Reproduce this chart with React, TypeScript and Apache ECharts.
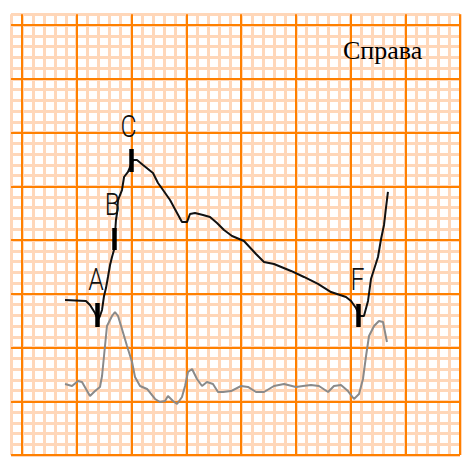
import React, { useEffect, useRef } from "react";
import * as echarts from "echarts";

// Paper units: 1 = one small square, 5 = one large square.
const paperXMin = -1;
const paperXMax = 40;
const paperYMin = 0;
const paperYMax = 41;

// Upper (black) tracing: [x, y] in small squares
const upperTrace: number[][] = [
  [3.93, 14.42], [5.84, 14.33], [6.21, 13.95], [6.67, 13.21], [6.94, 12.56],
  [7.12, 12.93], [7.31, 13.49], [7.49, 14.79], [7.67, 15.53], [7.85, 16.56],
  [8.04, 17.67], [8.22, 18.42], [8.4, 19.07], [8.49, 20.47], [8.58, 21.86],
  [8.68, 22.51], [8.77, 23.72], [9.13, 24.65], [9.32, 25.86], [9.68, 26.33],
  [9.95, 26.98], [10.14, 27.44], [10.5, 27.44], [11.05, 26.98], [11.96, 26.23],
  [12.42, 25.3], [12.88, 24.65], [13.52, 23.72], [14.16, 22.51], [14.61, 21.67],
  [15.07, 21.67], [15.34, 22.42], [15.8, 22.51], [16.53, 22.33], [17.17, 22.14],
  [17.81, 21.58], [18.45, 20.93], [19.18, 20.37], [20.27, 19.91], [21.37, 18.7],
  [22.1, 17.95], [23.01, 17.77], [24.57, 17.12], [25.75, 16.56], [27.03, 15.91],
  [28.22, 15.16], [29.59, 14.7], [30.05, 14.33], [30.5, 13.67], [30.87, 12.93],
  [31.23, 12.93], [31.6, 14.33], [31.87, 16.37], [32.51, 18.42], [32.79, 20.09],
  [33.06, 21.4], [33.24, 22.98], [33.42, 24.47],
];

// Heavy strokes on the upper tracing (notch A, upstroke B, peak C, notch F)
const heavyStrokes: number[][][] = [
  [[6.89, 14.14], [6.89, 11.91]],
  [[8.45, 21.12], [8.45, 19.07]],
  [[10.0, 28.47], [10.0, 26.33]],
  [[30.68, 14.05], [30.68, 11.91]],
];

// Lower (grey) tracing
const lowerTrace: number[][] = [
  [3.93, 6.6], [4.57, 6.42], [5.11, 6.88], [5.48, 6.79], [6.21, 5.49],
  [6.67, 5.95], [7.12, 6.33], [7.31, 7.35], [7.58, 10.14], [7.76, 12.0],
  [8.22, 12.93], [8.49, 13.3], [8.77, 12.93], [9.13, 11.72], [9.59, 10.14],
  [10.05, 8.65], [10.32, 7.26], [10.78, 6.42], [11.42, 6.14], [12.15, 5.21],
  [12.6, 4.93], [13.06, 5.02], [13.33, 5.49], [13.79, 5.02], [14.16, 4.74],
  [14.61, 5.4], [14.89, 6.42], [15.16, 7.72], [15.53, 8.0], [15.98, 7.07],
  [16.44, 6.42], [16.89, 6.79], [17.44, 6.6], [17.9, 5.86], [18.36, 5.86],
  [19.09, 5.95], [20.0, 6.42], [20.64, 6.33], [21.37, 5.86], [22.1, 5.86],
  [23.01, 6.42], [23.93, 6.6], [25.02, 6.33], [25.66, 6.42], [26.39, 6.51],
  [27.12, 6.42], [27.95, 5.86], [28.49, 6.42], [29.13, 6.51], [29.77, 5.95],
  [30.32, 5.21], [30.78, 5.67], [31.14, 7.07], [31.42, 9.21], [31.69, 11.07],
  [32.15, 12.0], [32.6, 12.47], [32.97, 12.37], [33.15, 11.44], [33.33, 10.51],
];

// Point letters and where they sit
const pointNames = ["A", "B", "C", "F"];
const pointPositions: number[][] = [
  [6.76, 16.28],
  [8.26, 23.26],
  [9.73, 30.56],
  [30.64, 16.33],
];

const sideLabel = "Справа";

const MINOR = "#ffd7b9";
const MAJOR = "#ff8000";
const CLEAR = "rgba(0,0,0,0)";

const hiddenAxisParts = {
  axisLine: { show: false },
  axisTick: { show: false },
  axisLabel: { show: false },
};

export default function App() {
  const ref = useRef<HTMLDivElement>(null);

  useEffect(() => {
    if (!ref.current) return;
    const chart = echarts.init(ref.current, null, { renderer: "svg" });

    chart.setOption({
      animation: false,
      backgroundColor: "#ffffff",
      grid: { left: 11.05, top: 14.25, width: 448.95, height: 440.75 },
      xAxis: [
        {
          type: "value",
          min: paperXMin,
          max: paperXMax,
          interval: 1,
          z: 0,
          ...hiddenAxisParts,
          splitLine: { show: true, lineStyle: { color: MINOR, width: 3 } },
        },
        {
          type: "value",
          min: paperXMin,
          max: paperXMax,
          interval: 1,
          z: 1,
          ...hiddenAxisParts,
          splitLine: {
            show: true,
            lineStyle: { color: [CLEAR, MAJOR, CLEAR, CLEAR, CLEAR], width: 2 },
          },
        },
      ],
      yAxis: [
        {
          type: "value",
          min: paperYMin,
          max: paperYMax,
          interval: 1,
          z: 0,
          ...hiddenAxisParts,
          splitLine: { show: true, lineStyle: { color: MINOR, width: 3 } },
        },
        {
          type: "value",
          min: paperYMin,
          max: paperYMax,
          interval: 1,
          z: 1,
          ...hiddenAxisParts,
          splitLine: {
            show: true,
            lineStyle: { color: [MAJOR, CLEAR, CLEAR, CLEAR, CLEAR], width: 2 },
          },
        },
      ],
      graphic: [
        {
          type: "text",
          left: 343,
          top: 37,
          z: 10,
          style: {
            text: sideLabel,
            font: '26px "Liberation Serif", "Times New Roman", serif',
            fill: "#000000",
          },
        },
      ],
      series: [
        {
          type: "line",
          xAxisIndex: 0,
          yAxisIndex: 0,
          data: lowerTrace,
          symbol: "none",
          silent: true,
          z: 3,
          lineStyle: { color: "#8a8a8a", width: 2 },
        },
        {
          type: "line",
          xAxisIndex: 0,
          yAxisIndex: 0,
          data: upperTrace,
          symbol: "none",
          silent: true,
          z: 4,
          lineStyle: { color: "#111111", width: 2 },
        },
        {
          type: "lines",
          coordinateSystem: "cartesian2d",
          xAxisIndex: 0,
          yAxisIndex: 0,
          silent: true,
          z: 5,
          data: heavyStrokes.map((coords) => ({ coords })),
          lineStyle: { color: "#000000", width: 4.5, opacity: 1 },
        },
        {
          type: "custom",
          xAxisIndex: 0,
          yAxisIndex: 0,
          silent: true,
          z: 6,
          data: pointPositions,
          renderItem: (params: any, api: any) => {
            const p = api.coord([api.value(0), api.value(1)]);
            return {
              type: "text",
              x: p[0],
              y: p[1],
              scaleX: 0.8,
              style: {
                text: pointNames[params.dataIndex],
                fontSize: 31,
                fontFamily: "Roboto, 'Liberation Sans', sans-serif",
                fontWeight: 300,
                fill: "#111111",
                align: "center",
                verticalAlign: "middle",
              },
            };
          },
        },
      ],
    });

    return () => chart.dispose();
  }, []);

  return (
    <div
      ref={ref}
      style={{ position: "fixed", left: 0, top: 0, width: 462, height: 458 }}
    />
  );
}
